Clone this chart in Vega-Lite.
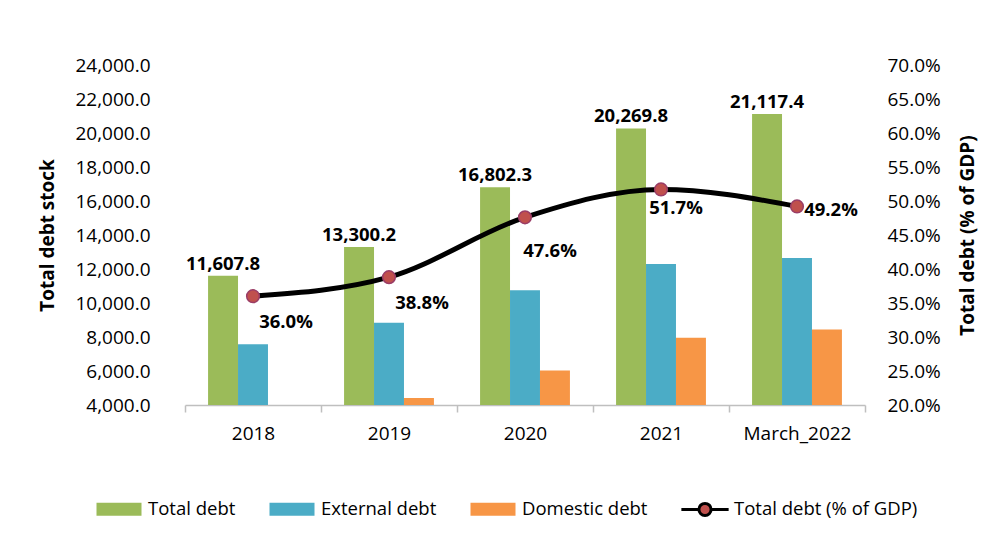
{
  "$schema": "https://vega.github.io/schema/vega-lite/v6.json",
  "width": 680,
  "height": 340,
  "autosize": {"type": "none"},
  "padding": {"left": 185, "top": 65, "right": 135, "bottom": 129},
  "background": "white",
  "config": {
    "view": {"stroke": null},
    "font": "Open Sans",
    "axis": {"labelFont": "Open Sans", "titleFont": "Open Sans", "labelColor": "#000000", "titleColor": "#000000", "grid": false},
    "legend": {"labelFont": "Open Sans", "labelColor": "#000000"},
    "text": {"font": "Open Sans"}
  },
  "datasets": {
    "debt": [
      {"period": "2018", "series": "Total debt", "value": 11607.8},
      {"period": "2018", "series": "External debt", "value": 7570},
      {"period": "2018", "series": "Domestic debt", "value": 3950},
      {"period": "2019", "series": "Total debt", "value": 13300.2},
      {"period": "2019", "series": "External debt", "value": 8840},
      {"period": "2019", "series": "Domestic debt", "value": 4410},
      {"period": "2020", "series": "Total debt", "value": 16802.3},
      {"period": "2020", "series": "External debt", "value": 10750},
      {"period": "2020", "series": "Domestic debt", "value": 6030},
      {"period": "2021", "series": "Total debt", "value": 20269.8},
      {"period": "2021", "series": "External debt", "value": 12300},
      {"period": "2021", "series": "Domestic debt", "value": 7960},
      {"period": "March_2022", "series": "Total debt", "value": 21117.4},
      {"period": "March_2022", "series": "External debt", "value": 12640},
      {"period": "March_2022", "series": "Domestic debt", "value": 8440}
    ],
    "pct": [
      {"period": "2018", "pct": 0.36},
      {"period": "2019", "pct": 0.388},
      {"period": "2020", "pct": 0.476},
      {"period": "2021", "pct": 0.517},
      {"period": "March_2022", "pct": 0.492}
    ]
  },
  "encoding": {
    "x": {
      "field": "period",
      "type": "nominal",
      "scale": {"domain": ["2018", "2019", "2020", "2021", "March_2022"], "paddingInner": 0, "paddingOuter": 0},
      "axis": {
        "title": null,
        "labelAngle": 0,
        "labelFontSize": 19,
        "domainColor": "#BFBFBF",
        "domainWidth": 1.5,
        "tickColor": "#BFBFBF",
        "tickWidth": 1.5,
        "tickBand": "extent",
        "tickSize": 7,
        "labelPadding": 12
      }
    }
  },
  "layer": [
    {
      "data": {"name": "debt"},
      "encoding": {
        "y": {
          "field": "value",
          "type": "quantitative",
          "scale": {"domain": [4000, 24000], "zero": false, "nice": false},
          "axis": {
            "title": "Total debt stock",
            "titleFontSize": 19,
            "titleFontWeight": "bold",
            "titlePadding": 17,
            "format": ",.1f",
            "values": [4000, 6000, 8000, 10000, 12000, 14000, 16000, 18000, 20000, 22000, 24000],
            "domain": false,
            "ticks": false,
            "labelPadding": 35,
            "labelFontSize": 19
          }
        },
        "xOffset": {
          "field": "series",
          "type": "nominal",
          "scale": {"domain": ["Total debt", "External debt", "Domestic debt"], "paddingInner": 0, "paddingOuter": 0.77}
        }
      },
      "layer": [
        {
          "mark": {"type": "bar", "clip": true},
          "encoding": {
            "color": {
              "field": "series",
              "type": "nominal",
              "scale": {
                "domain": ["Total debt", "External debt", "Domestic debt", "Total debt (% of GDP)"],
                "range": ["#9BBB59", "#4BACC6", "#F79646", "#C0504D"]
              },
              "legend": {
                "orient": "none",
                "legendX": -90,
                "legendY": 420,
                "direction": "horizontal",
                "title": null,
                "labelFontSize": 18.5,
                "labelLimit": 400,
                "symbolSize": 2025,
                "columnPadding": 27,
                "labelOffset": 5,
                "symbolType": "square",
                "encode": {
                  "symbols": {
                    "update": {
                      "shape": {"signal": "datum.value === 'Total debt (% of GDP)' ? 'M-1.05,0H-0.29M0.29,0H1.05M-0.27,0A0.27,0.27 0 1,0 0.27,0A0.27,0.27 0 1,0 -0.27,0Z' : 'M-1,-0.29H1V0.29H-1Z'"},
                      "fill": {"signal": "scale('color', datum.value)"},
                      "stroke": {"signal": "datum.value === 'Total debt (% of GDP)' ? '#000000' : 'transparent'"},
                      "strokeWidth": {"value": 3},
                      "opacity": {"value": 1},
                      "fillOpacity": {"value": 1}
                    }
                  }
                }
              }
            }
          }
        },
        {
          "transform": [{"filter": "datum.series === 'Total debt'"}],
          "mark": {"type": "text", "baseline": "bottom", "dy": -2, "fontWeight": "bold", "fontSize": 18.5, "color": "#000000"},
          "encoding": {"text": {"field": "value", "type": "quantitative", "format": ",.1f"}}
        }
      ]
    },
    {
      "data": {"name": "pct"},
      "encoding": {
        "y": {
          "field": "pct",
          "type": "quantitative",
          "scale": {"domain": [0.2, 0.7], "zero": false, "nice": false},
          "axis": {
            "orient": "right",
            "title": "Total debt (% of GDP)",
            "titleFontSize": 19,
            "titleFontWeight": "bold",
            "titleAngle": 270,
            "titleBaseline": "top",
            "titlePadding": 18,
            "format": ".1%",
            "values": [0.2, 0.25, 0.3, 0.35, 0.4, 0.45, 0.5, 0.55, 0.6, 0.65, 0.7],
            "domain": false,
            "ticks": false,
            "labelPadding": 22,
            "labelFontSize": 19
          }
        }
      },
      "layer": [
        {"mark": {"type": "line", "interpolate": "monotone", "color": "#000000", "strokeWidth": 5}},
        {"mark": {"type": "circle", "color": "#C0504D", "opacity": 1, "stroke": "#9A3D66", "strokeWidth": 1.5, "size": 160}},
        {
          "transform": [{"filter": "datum.period === '2018' || datum.period === '2019'"}],
          "mark": {"type": "text", "fontWeight": "bold", "fontSize": 18.5, "dx": 33, "dy": 26, "color": "#000000"},
          "encoding": {"text": {"field": "pct", "type": "quantitative", "format": ".1%"}}
        },
        {
          "transform": [{"filter": "datum.period === '2020'"}],
          "mark": {"type": "text", "fontWeight": "bold", "fontSize": 18.5, "dx": 25, "dy": 34, "color": "#000000"},
          "encoding": {"text": {"field": "pct", "type": "quantitative", "format": ".1%"}}
        },
        {
          "transform": [{"filter": "datum.period === '2021'"}],
          "mark": {"type": "text", "fontWeight": "bold", "fontSize": 18.5, "dx": 15, "dy": 19, "color": "#000000"},
          "encoding": {"text": {"field": "pct", "type": "quantitative", "format": ".1%"}}
        },
        {
          "transform": [{"filter": "datum.period === 'March_2022'"}],
          "mark": {"type": "text", "fontWeight": "bold", "fontSize": 18.5, "dx": 34, "dy": 4, "color": "#000000"},
          "encoding": {"text": {"field": "pct", "type": "quantitative", "format": ".1%"}}
        }
      ]
    }
  ],
  "resolve": {"scale": {"y": "independent"}}
}
